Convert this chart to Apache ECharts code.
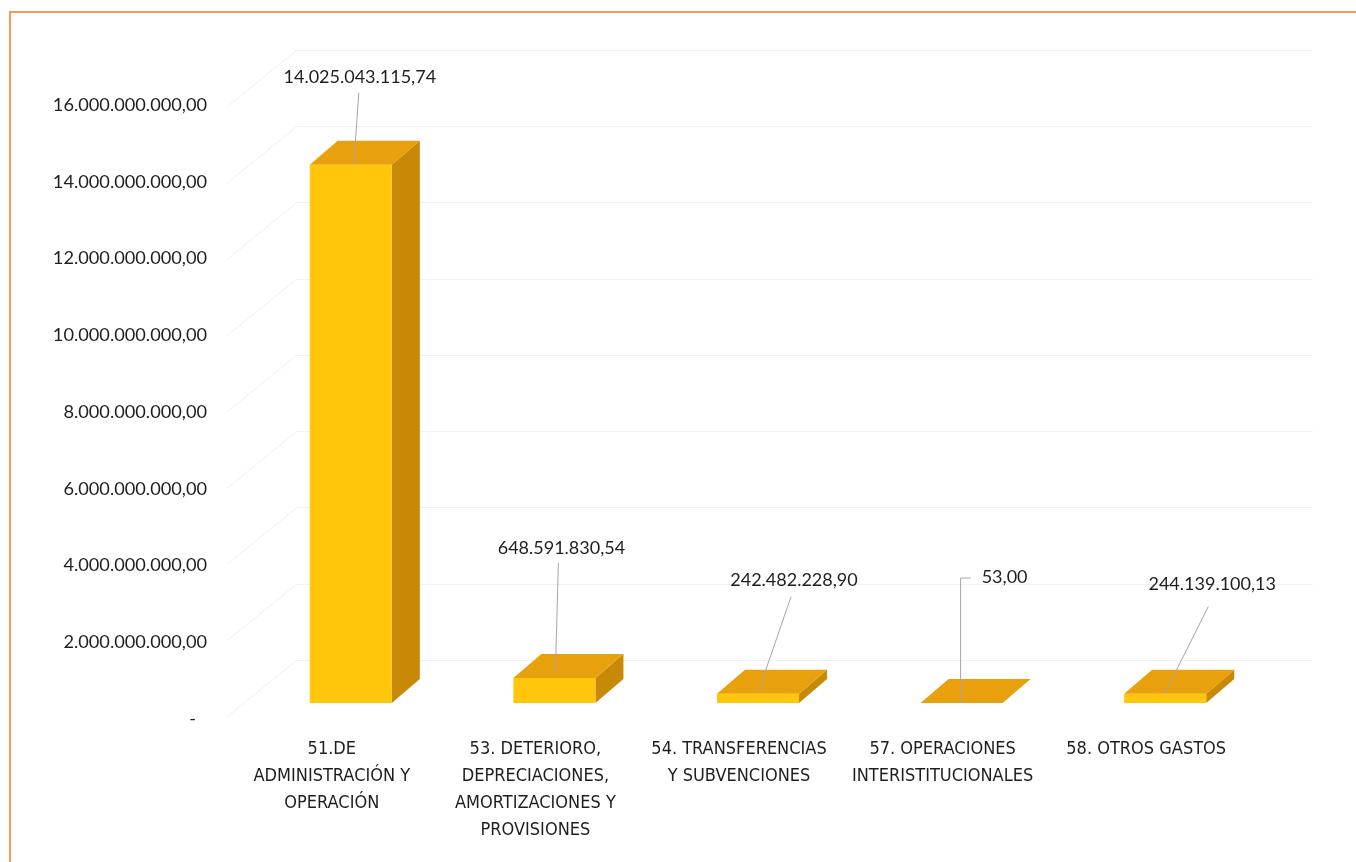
<!DOCTYPE html>
<html>
<head>
<meta charset="utf-8">
<title>Gastos</title>
<script src="https://cdn.jsdelivr.net/npm/echarts@6/dist/echarts.min.js"></script>
<style>
  html, body { margin: 0; padding: 0; background: #ffffff; }
  #chart { width: 1356px; height: 862px; }
</style>
</head>
<body>
<div id="chart"></div>
<script>
// Categories and amounts
var categories = [
  '51.DE\nADMINISTRACIÓN Y\nOPERACIÓN',
  '53. DETERIORO,\nDEPRECIACIONES,\nAMORTIZACIONES Y\nPROVISIONES',
  '54. TRANSFERENCIAS\nY SUBVENCIONES',
  '57. OPERACIONES\nINTERISTITUCIONALES',
  '58. OTROS GASTOS'
];
var values = [14025043115.74, 648591830.54, 242482228.90, 53.00, 244139100.13];

// Value axis ticks
var axisMin = 0;
var axisMax = 16000000000;
var axisStep = 2000000000;

// Label placement relative to the bar's top-front centre, with leader-line points
var labelPlacement = [
  { dx: 9,  dy: -88,  leader: [[8, -72], [3, 0]] },
  { dx: 7,  dy: -130, leader: [[4, -115], [1, -5]] },
  { dx: 36, dy: -114, leader: [[33, -97], [1, -4]] },
  { dx: 43, dy: -126, leader: [[9, -125], [-1, -125], [-1, 0]] },
  { dx: 47, dy: -109, leader: [[43, -87], [0, -1]] }
];

function fmt(v) {
  var parts = v.toFixed(2).split('.');
  return parts[0].replace(/\B(?=(\d{3})+(?!\d))/g, '.') + ',' + parts[1];
}

var FRONT = '#FFC60B';
var TOP = '#E8A00C';
var SIDE = '#C88906';
var DEPTH_X = 28, DEPTH_Y = -24;
var TEXT = '#1e1e1e';

var ticks = [];
for (var t = axisMin; t <= axisMax; t += axisStep) ticks.push(t);

var chart = echarts.init(document.getElementById('chart'), null, { renderer: 'canvas' });

var option = {
  backgroundColor: '#ffffff',
  animation: false,
  textStyle: { fontFamily: 'Lato' },
  graphic: [{
    type: 'rect',
    shape: { x: 10, y: 12, width: 1400, height: 900 },
    style: { fill: 'none', stroke: '#EF9F55', lineWidth: 2 },
    z: 0
  }],
  grid: [
    // 0: value-axis labels (front edge of the floor)
    { left: 215, top: 105, width: 1000, height: 614 },
    // 1: back wall
    { left: 297, top: 50, width: 1016, height: 610 },
    // 2: bars
    { left: 249, top: 89, width: 1018, height: 614 },
    // 3: category labels (front edge of the floor)
    { left: 230, top: 100, width: 1018, height: 630 }
  ],
  xAxis: [
    { gridIndex: 0, type: 'category', data: categories, show: false },
    { gridIndex: 1, type: 'value', min: 0, max: 1, show: false },
    { gridIndex: 2, type: 'category', data: categories, show: false },
    {
      gridIndex: 3, type: 'category', data: categories,
      axisLine: { show: false }, axisTick: { show: false }, splitLine: { show: false },
      axisLabel: {
        interval: 0, margin: 6, color: TEXT,
        fontFamily: '"DejaVu Sans Condensed"', fontSize: 18,
        lineHeight: 27, verticalAlign: 'top', align: 'center'
      }
    }
  ],
  yAxis: [
    {
      gridIndex: 0, type: 'value', min: axisMin, max: axisMax, interval: axisStep,
      axisLine: { show: false }, axisTick: { show: false }, splitLine: { show: false },
      axisLabel: {
        margin: 8, color: TEXT, fontFamily: 'Lato', fontSize: 18.2,
        formatter: function (v) { return v === 0 ? '{z|-}' : fmt(v); },
        rich: { z: { padding: [0, 11, 0, 0], fontFamily: 'Lato', fontSize: 18.2, color: TEXT } }
      }
    },
    {
      gridIndex: 1, type: 'value', min: axisMin, max: axisMax, interval: axisStep,
      axisLine: { show: false }, axisTick: { show: false }, axisLabel: { show: false },
      splitLine: { show: true, lineStyle: { color: '#f1f1f1', width: 1 } }
    },
    { gridIndex: 2, type: 'value', min: axisMin, max: axisMax, show: false },
    { gridIndex: 3, type: 'value', min: axisMin, max: axisMax, show: false }
  ],
  series: [
    {
      // side-wall gridlines running from the value labels to the back wall
      type: 'custom',
      xAxisIndex: 1, yAxisIndex: 1,
      data: ticks.map(function (t) { return [0, t]; }),
      silent: true,
      renderItem: function (params, api) {
        var p = api.coord([0, api.value(1)]);
        return {
          type: 'line',
          shape: { x1: p[0], y1: p[1], x2: p[0] - 70, y2: p[1] + 57 },
          style: { stroke: '#f1f1f1', lineWidth: 1 }
        };
      },
      z: 1
    },
    {
      type: 'custom',
      xAxisIndex: 2, yAxisIndex: 2,
      data: values.map(function (v, i) { return [i, v]; }),
      renderItem: function (params, api) {
        var i = api.value(0);
        var v = api.value(1);
        var top = api.coord([i, v]);
        var base = api.coord([i, 0]);
        var band = api.size([1, 0])[0];
        var w = band * 0.403;
        var x0 = top[0] - w / 2, x1 = top[0] + w / 2;
        var yT = top[1], yB = base[1];
        var pl = labelPlacement[params.dataIndex];
        var cx = top[0];
        var children = [];
        if (yB - yT > 0.5) {
          children.push({
            type: 'polygon',
            shape: { points: [[x1, yT], [x1 + DEPTH_X, yT + DEPTH_Y], [x1 + DEPTH_X, yB + DEPTH_Y], [x1, yB]] },
            style: { fill: SIDE }
          });
          children.push({
            type: 'rect',
            shape: { x: x0, y: yT, width: w, height: yB - yT },
            style: { fill: FRONT }
          });
        }
        children.push({
          type: 'polygon',
          shape: { points: [[x0, yT], [x1, yT], [x1 + DEPTH_X, yT + DEPTH_Y], [x0 + DEPTH_X, yT + DEPTH_Y]] },
          style: { fill: TOP }
        });
        children.push({
          type: 'polyline',
          shape: { points: pl.leader.map(function (p) { return [cx + p[0], yT + p[1]]; }) },
          style: { stroke: '#a6a6a6', lineWidth: 1, fill: null }
        });
        children.push({
          type: 'text',
          style: {
            text: fmt(v),
            x: cx + pl.dx, y: yT + pl.dy,
            align: 'center', verticalAlign: 'middle',
            fontFamily: 'Lato', fontSize: 18, fill: TEXT
          }
        });
        return { type: 'group', children: children };
      },
      z: 3
    }
  ]
};

chart.setOption(option);
</script>
</body>
</html>
